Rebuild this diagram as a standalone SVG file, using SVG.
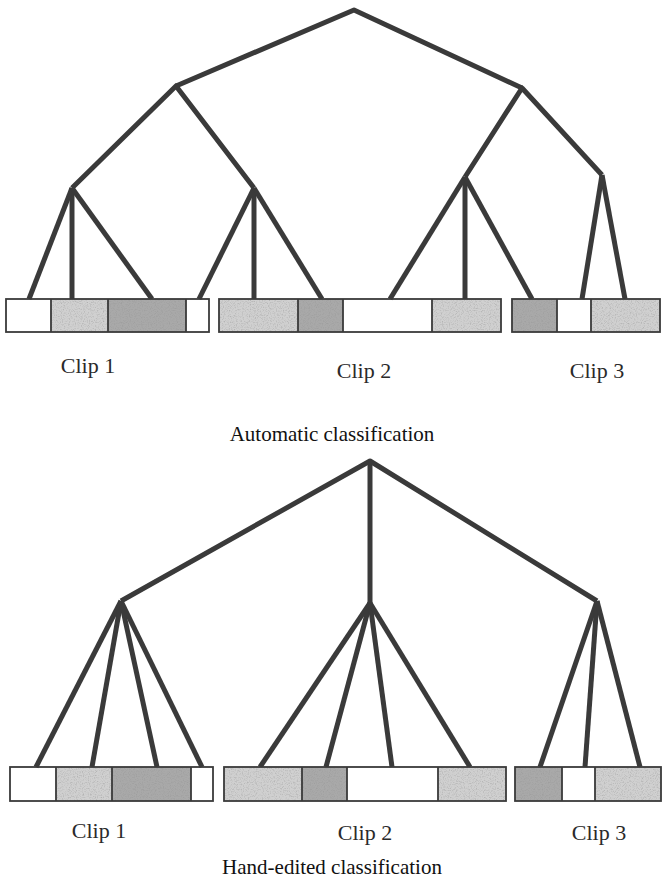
<svg xmlns="http://www.w3.org/2000/svg" width="663" height="883" viewBox="0 0 663 883">
  <style>
    .edge { stroke: #3a3a3a; stroke-width: 5; fill: none; stroke-linecap: butt; stroke-linejoin: round; }
    .box { stroke: #3a3a3a; stroke-width: 1.8; fill: none; }
    .l { fill: #d0d0d0; filter: url(#grain); }
    .d { fill: #a9a9a9; filter: url(#grain); }
    .lbl { font-family: "Liberation Serif", "Times New Roman", serif; font-size: 22px; fill: #2a2a2a; text-anchor: middle; }
    .cap { font-family: "Liberation Serif", "Times New Roman", serif; font-size: 21px; fill: #111; text-anchor: middle; }
  </style>
  <defs>
    <!-- stippled texture for the shaded segments -->
    <filter id="grain" x="0" y="0" width="100%" height="100%">
      <feTurbulence type="fractalNoise" baseFrequency="0.85" numOctaves="2" seed="3" result="noise"/>
      <feColorMatrix in="noise" type="matrix" values="0 0 0 0 0.3  0 0 0 0 0.3  0 0 0 0 0.3  0 0 0 -1.4 0.75" result="dots"/>
      <feComposite in="dots" in2="SourceGraphic" operator="in" result="clipped"/>
      <feMerge>
        <feMergeNode in="SourceGraphic"/>
        <feMergeNode in="clipped"/>
      </feMerge>
    </filter>
  </defs>
  <rect width="663" height="883" fill="#ffffff"/>

  <!-- Upper tree: automatic classification -->
  <g id="auto-edges">
    <polyline class="edge" points="176,86 354,10 522,88"/>
    <polyline class="edge" points="72,188 176,86 254,188"/>
    <polyline class="edge" points="465,177 522,88 602,175"/>
    <line class="edge" x1="72" y1="188" x2="29" y2="299"/>
    <line class="edge" x1="72" y1="188" x2="72" y2="299"/>
    <line class="edge" x1="72" y1="188" x2="152" y2="299"/>
    <line class="edge" x1="254" y1="188" x2="199" y2="299"/>
    <line class="edge" x1="254" y1="188" x2="254" y2="299"/>
    <line class="edge" x1="254" y1="188" x2="322" y2="299"/>
    <line class="edge" x1="465" y1="177" x2="390" y2="299"/>
    <line class="edge" x1="465" y1="177" x2="465" y2="299"/>
    <line class="edge" x1="465" y1="177" x2="532" y2="299"/>
    <line class="edge" x1="602" y1="175" x2="582" y2="299"/>
    <line class="edge" x1="602" y1="175" x2="625" y2="299"/>
  </g>

  <g id="auto-clip1">
    <rect class="l" x="51" y="299" width="57" height="33"/>
    <rect class="d" x="108" y="299" width="78" height="33"/>
    <rect class="box" x="6" y="299" width="203" height="33"/>
    <path class="box" d="M51 299V332M108 299V332M186 299V332"/>
    <text class="lbl" x="88" y="373">Clip 1</text>
  </g>
  <g id="auto-clip2">
    <rect class="l" x="219" y="299" width="79" height="33"/>
    <rect class="d" x="298" y="299" width="45" height="33"/>
    <rect class="l" x="432" y="299" width="69" height="33"/>
    <rect class="box" x="219" y="299" width="282" height="33"/>
    <path class="box" d="M298 299V332M343 299V332M432 299V332"/>
    <text class="lbl" x="364" y="378">Clip 2</text>
  </g>
  <g id="auto-clip3">
    <rect class="d" x="512" y="299" width="45" height="33"/>
    <rect class="l" x="591" y="299" width="69" height="33"/>
    <rect class="box" x="512" y="299" width="148" height="33"/>
    <path class="box" d="M557 299V332M591 299V332"/>
    <text class="lbl" x="597" y="378">Clip 3</text>
  </g>
  <text class="cap" x="332" y="441">Automatic classification</text>

  <!-- Lower tree: hand-edited classification -->
  <g id="hand-edges">
    <polyline class="edge" points="121,601 370,461 597,601"/>
    <line class="edge" x1="370" y1="461" x2="370" y2="603"/>
    <line class="edge" x1="121" y1="601" x2="36" y2="767"/>
    <line class="edge" x1="121" y1="601" x2="92" y2="767"/>
    <line class="edge" x1="121" y1="601" x2="157" y2="767"/>
    <line class="edge" x1="121" y1="601" x2="202" y2="767"/>
    <line class="edge" x1="370" y1="603" x2="260" y2="767"/>
    <line class="edge" x1="370" y1="603" x2="326" y2="767"/>
    <line class="edge" x1="370" y1="603" x2="392" y2="767"/>
    <line class="edge" x1="370" y1="603" x2="470" y2="767"/>
    <line class="edge" x1="597" y1="601" x2="540" y2="767"/>
    <line class="edge" x1="597" y1="601" x2="585" y2="767"/>
    <line class="edge" x1="597" y1="601" x2="640" y2="767"/>
  </g>

  <g id="hand-clip1">
    <rect class="l" x="56" y="767" width="56" height="34"/>
    <rect class="d" x="112" y="767" width="79" height="34"/>
    <rect class="box" x="10" y="767" width="203" height="34"/>
    <path class="box" d="M56 767V801M112 767V801M191 767V801"/>
    <text class="lbl" x="99" y="838">Clip 1</text>
  </g>
  <g id="hand-clip2">
    <rect class="l" x="224" y="767" width="78" height="34"/>
    <rect class="d" x="302" y="767" width="45" height="34"/>
    <rect class="l" x="438" y="767" width="68" height="34"/>
    <rect class="box" x="224" y="767" width="282" height="34"/>
    <path class="box" d="M302 767V801M347 767V801M438 767V801"/>
    <text class="lbl" x="365" y="840">Clip 2</text>
  </g>
  <g id="hand-clip3">
    <rect class="d" x="515" y="767" width="47" height="34"/>
    <rect class="l" x="595" y="767" width="66" height="34"/>
    <rect class="box" x="515" y="767" width="146" height="34"/>
    <path class="box" d="M562 767V801M595 767V801"/>
    <text class="lbl" x="599" y="840">Clip 3</text>
  </g>
  <text class="cap" x="332" y="874">Hand-edited classification</text>
</svg>
